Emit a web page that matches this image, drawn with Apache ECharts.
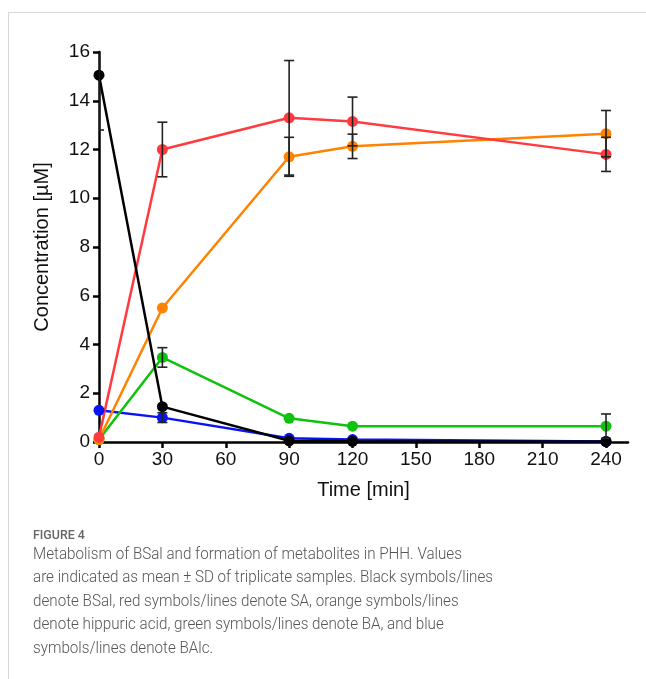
<!DOCTYPE html>
<html><head><meta charset="utf-8">
<script src="https://cdn.jsdelivr.net/npm/echarts@6/dist/echarts.min.js"></script>
<style>html,body{margin:0;padding:0;background:#fff}#c{width:646px;height:679px}</style>
</head><body><div id="c"></div>
<script>
const times = [0, 30, 90, 120, 240];
const xTicks = [0, 30, 60, 90, 120, 150, 180, 210, 240];
const bsal = [15.05, 1.45, 0.05, 0.03, 0.02];
const bsalSD = [2.25, 0, 0, 0, 0];
const sa = [0.2, 12.0, 13.3, 13.15, 11.8];
const saSD = [0, 1.12, 2.35, 1.0, 0.7];
const hip = [0.1, 5.5, 11.7, 12.13, 12.65];
const hipSD = [0, 0, 0.8, 0.5, 0.95];
const ba = [0.1, 3.47, 0.97, 0.65, 0.65];
const baSD = [0, 0.4, 0, 0, 0.5];
const balc = [1.3, 1.0, 0.15, 0.1, 0.02];
const balcSD = [0, 0.2, 0, 0, 0];

const seriesDefs = [
  {name: 'BAlc', data: balc, sd: balcSD, color: '#0a14f0'},
  {name: 'BA', data: ba, sd: baSD, color: '#0ec20e'},
  {name: 'Hippuric acid', data: hip, sd: hipSD, color: '#ff8200'},
  {name: 'SA', data: sa, sd: saSD, color: '#ff3b3f'},
  {name: 'BSal', data: bsal, sd: bsalSD, color: '#000000'}
];

const font = 'Liberation Sans, Arial, sans-serif';
const series = [];
seriesDefs.forEach(s => {
  series.push({
    type: 'line', name: s.name, data: times.map((t, i) => [t, s.data[i]]),
    symbol: 'circle', symbolSize: 11, lineStyle: {width: 2.5, color: s.color},
    itemStyle: {color: s.color}, z: 2, animation: false
  });
});
const errData = [];
seriesDefs.forEach(s => {
  times.forEach((t, i) => { if (s.sd[i] > 0) errData.push([t, s.data[i] - s.sd[i], s.data[i] + s.sd[i]]); });
});
series.push({
  type: 'custom', name: 'SD', data: errData, z: 5, animation: false, clip: true,
  renderItem: function (params, api) {
    const x = api.value(0);
    const lo = api.coord([x, api.value(1)]);
    const hi = api.coord([x, api.value(2)]);
    const w = 5;
    const st = {stroke: '#222', lineWidth: 1.6, fill: null};
    return {type: 'group', children: [
      {type: 'line', shape: {x1: lo[0], y1: lo[1], x2: hi[0], y2: hi[1]}, style: st},
      {type: 'line', shape: {x1: lo[0] - w, y1: lo[1], x2: lo[0] + w, y2: lo[1]}, style: st},
      {type: 'line', shape: {x1: hi[0] - w, y1: hi[1], x2: hi[0] + w, y2: hi[1]}, style: st}
    ]};
  }
});

const captionLines = [
  'Metabolism of BSal and formation of metabolites in PHH. Values',
  'are indicated as mean \u00b1 SD of triplicate samples. Black symbols/lines',
  'denote BSal, red symbols/lines denote SA, orange symbols/lines',
  'denote hippuric acid, green symbols/lines denote BA, and blue',
  'symbols/lines denote BAlc.'
];

const chart = echarts.init(document.getElementById('c'));
chart.setOption({
  animation: false,
  grid: {left: 99, top: 52, width: 529, height: 390, containLabel: false},
  xAxis: {
    type: 'value', min: 0, max: 250.4,
    name: 'Time [min]', nameLocation: 'middle', nameGap: 38,
    nameTextStyle: {fontSize: 20, color: '#111', fontFamily: font},
    axisLine: {lineStyle: {color: '#000', width: 2.5}},
    axisTick: {show: true, length: 6, inside: false, lineStyle: {color: '#000', width: 2.5}, customValues: xTicks},
    axisLabel: {fontSize: 19, color: '#111', fontFamily: font, margin: 8, customValues: xTicks},
    splitLine: {show: false}
  },
  yAxis: {
    type: 'value', min: 0, max: 16, interval: 2,
    name: 'Concentration [\u00b5M]', nameLocation: 'middle', nameGap: 47, nameRotate: 90,
    nameTextStyle: {fontSize: 20, color: '#111', fontFamily: font},
    axisLine: {show: true, lineStyle: {color: '#000', width: 2.5}},
    axisTick: {show: true, length: 6, lineStyle: {color: '#000', width: 2.5}},
    axisLabel: {fontSize: 19, color: '#111', fontFamily: font, margin: 9},
    splitLine: {show: false}
  },
  series: series,
  graphic: [
    {type: 'line', shape: {x1: 8, y1: 12.5, x2: 646, y2: 12.5}, style: {stroke: '#d8d8d8', lineWidth: 1}},
    {type: 'line', shape: {x1: 8.5, y1: 12, x2: 8.5, y2: 679}, style: {stroke: '#d8d8d8', lineWidth: 1}},
    {type: 'text', x: 33, y: 529, scaleX: 0.92, style: {text: 'FIGURE 4', font: '500 13.5px Roboto, sans-serif', fill: '#666', verticalAlign: 'top'}},
    {type: 'text', x: 33, y: 543, scaleX: 0.905, style: {text: captionLines.join('\n'), font: '300 16.8px Roboto, sans-serif', lineHeight: 23.5, fill: '#555', verticalAlign: 'top'}}
  ]
});
</script></body></html>
